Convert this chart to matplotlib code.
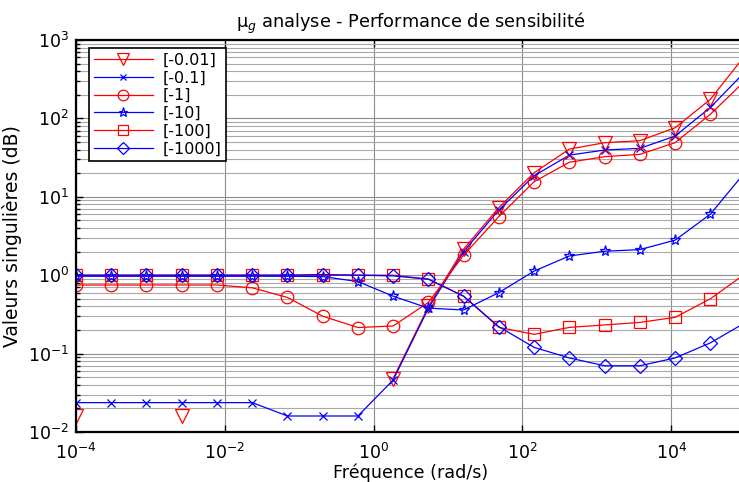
import numpy as np
import matplotlib
matplotlib.use('Agg')
import matplotlib.pyplot as plt
from matplotlib.ticker import LogLocator, NullLocator, NullFormatter

plt.rcParams['font.family'] = ['DejaVu Sans']
plt.rcParams['mathtext.fontset'] = 'dejavusans'

nan = np.nan

# frequencies (rad/s)
freq = [1.0e-4, 2.98e-4, 8.86e-4, 2.64e-3, 7.85e-3, 2.34e-2, 6.95e-2, 2.07e-1,
        6.16e-1, 1.83, 5.46, 16.2, 48.3, 144, 428, 1274, 3793, 11288, 33598, 1.0e5]

# singular values for each mu_g
sv_m001 = [0.016, nan, nan, 0.016, nan, nan, nan, nan, nan, 0.048,
           0.40, 2.15, 7.3, 20.3, 40.6, 49, 52, 76, 175, 650]
sv_m01 = [0.0237, 0.0237, 0.0237, 0.0237, 0.0237, 0.0237, 0.016, 0.016, 0.016, 0.046,
          0.38, 2.0, 6.8, 18.6, 34, 39.5, 41.5, 59.5, 138, 400]
sv_m1 = [0.75, 0.75, 0.75, 0.75, 0.75, 0.69, 0.52, 0.30, 0.215, 0.225,
         0.45, 1.8, 5.6, 15.6, 27.6, 32.5, 34.8, 49, 113, 306]
sv_m10 = [0.97, 0.97, 0.97, 0.97, 0.97, 0.97, 0.97, 0.96, 0.83, 0.54,
          0.38, 0.36, 0.60, 1.13, 1.76, 2.02, 2.12, 2.8, 6.0, 21]
sv_m100 = [1.0, 1.0, 1.0, 1.0, 1.0, 1.0, 1.0, 1.0, 1.0, 1.0,
           0.89, 0.54, 0.216, 0.176, 0.216, 0.232, 0.25, 0.29, 0.50, 1.05]
sv_m1000 = [1.0, 1.0, 1.0, 1.0, 1.0, 1.0, 1.0, 1.02, 1.0, 0.98,
            0.89, 0.54, 0.22, 0.12, 0.088, 0.070, 0.070, 0.088, 0.137, 0.25]

labels = ['[-0.01]', '[-0.1]', '[-1]', '[-10]', '[-100]', '[-1000]']
series = [sv_m001, sv_m01, sv_m1, sv_m10, sv_m100, sv_m1000]
colors = ['#ff0000', '#0000ff', '#ff0000', '#0000ff', '#ff0000', '#0000ff']
markers = ['v', 'x', 'o', '*', 's', 'D']
msizes = [10, 5.5, 9, 8, 8.5, 7.5]

fig = plt.figure(figsize=(7.39, 4.82), dpi=100)
ax = fig.add_axes([76 / 739, 50 / 482, 669.6 / 739, 392 / 482])

for y, lab, c, m, ms in zip(series, labels, colors, markers, msizes):
    ax.plot(freq, y, color=c, lw=0.9, marker=m, ms=ms, mfc='none', mec=c,
            mew=0.9, label=lab)

ax.set_xscale('log')
ax.set_yscale('log')
ax.set_xlim(1e-4, 1e5)
ax.set_ylim(1e-2, 1e3)
ax.set_xticks([1e-4, 1e-2, 1, 1e2, 1e4])
ax.xaxis.set_minor_locator(NullLocator())
ax.yaxis.set_major_locator(LogLocator(base=10))
ax.yaxis.set_minor_locator(LogLocator(base=10, subs=np.arange(2, 10)))
ax.yaxis.set_minor_formatter(NullFormatter())

ax.grid(True, which='major', axis='both', color='#8c8c8c', lw=0.8)
ax.grid(True, which='minor', axis='y', color='#a8a8a8', lw=0.8)

ax.tick_params(which='both', direction='in', top=True, right=True, labelsize=12.5,
               colors='black')
ax.tick_params(axis='x', pad=8)
ax.tick_params(axis='y', pad=5)
ax.tick_params(which='major', length=5, width=1)
ax.tick_params(which='minor', length=3, width=1)
for side in ['left', 'top', 'bottom']:
    ax.spines[side].set_linewidth(1.6)

ax.set_title('μ$_g$ analyse - Performance de sensibilité', fontsize=12.8, pad=9)
ax.set_xlabel('Fréquence (rad/s)', fontsize=12.6, labelpad=0)
ax.set_ylabel('Valeurs singulières (dB)', fontsize=13.5, labelpad=4)

leg = ax.legend(loc='upper left', bbox_to_anchor=(89 / 739, 1 - 48 / 482),
                bbox_transform=fig.transFigure, fontsize=11.5, frameon=True,
                fancybox=False, borderpad=0.3, handlelength=3.7, handletextpad=0.6,
                labelspacing=0.17, borderaxespad=0, markerscale=0.85)
leg.get_frame().set_edgecolor('black')
leg.get_frame().set_linewidth(1.2)
leg.get_frame().set_alpha(1)

fig.savefig('out.png', dpi=100)
